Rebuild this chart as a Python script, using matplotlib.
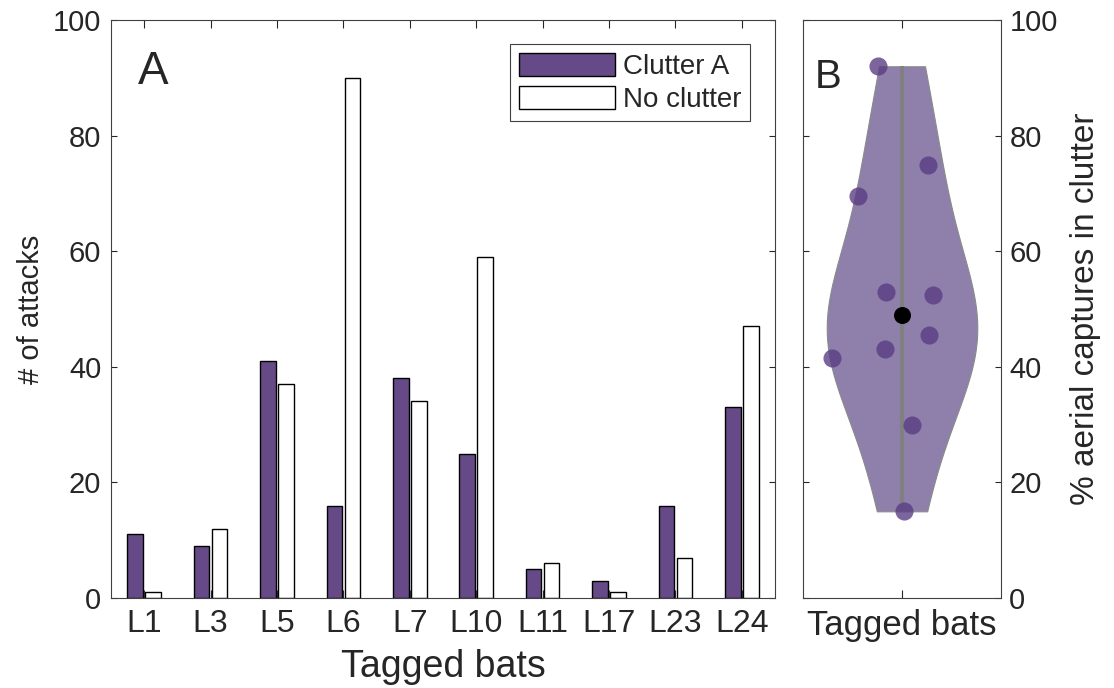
import numpy as np
import matplotlib
matplotlib.use("Agg")
import matplotlib.pyplot as plt

plt.rcParams['font.family'] = ['Liberation Sans', 'DejaVu Sans']
plt.rcParams['text.color'] = '#262626'
plt.rcParams['axes.labelcolor'] = '#262626'
plt.rcParams['xtick.color'] = '#262626'
plt.rcParams['ytick.color'] = '#262626'

# panel A data
bats = ['L1', 'L3', 'L5', 'L6', 'L7', 'L10', 'L11', 'L17', 'L23', 'L24']
clutter_a = [11, 9, 41, 16, 38, 25, 5, 3, 16, 33]
no_clutter = [1, 12, 37, 90, 34, 59, 6, 1, 7, 47]

# panel B data (% aerial captures in clutter) and jitter of each point
pct_clutter = [92, 69.5, 75, 53, 52.5, 43, 45.5, 41.5, 30, 15]
jitter = [-0.121, -0.222, 0.131, -0.081, 0.157, -0.086, 0.136, -0.354, 0.05, 0.01]

purple = '#654a87'
violet = '#8f80ab'
spine_col = '#404040'

fig = plt.figure(figsize=(11.14, 6.88), dpi=100)
ax1 = fig.add_axes([0.0996, 0.1308, 0.5961, 0.8401])
ax2 = fig.add_axes([0.7208, 0.1308, 0.1778, 0.8401])

# --- A: grouped bars
x = np.arange(1, len(bats) + 1)
w = 0.235
ax1.bar(x - 0.135, clutter_a, w, color=purple, edgecolor='black', linewidth=1.0,
        label='Clutter A')
ax1.bar(x + 0.135, no_clutter, w, color='white', edgecolor='black', linewidth=1.0,
        label='No clutter')
ax1.set_xlim(0.5, 10.5)
ax1.set_ylim(0, 100)
ax1.set_xticks(x)
ax1.set_xticklabels(bats)
ax1.set_yticks(np.arange(0, 101, 20))
ax1.set_xlabel('Tagged bats', fontsize=27, labelpad=7)
ax1.set_ylabel('# of attacks', fontsize=21, labelpad=6)
ax1.tick_params(axis='x', direction='in', top=True, length=6, width=0.8,
                labelsize=23, pad=8)
ax1.tick_params(axis='y', direction='in', right=True, length=4.5, width=0.8,
                labelsize=21, pad=7)
ax1.text(0.04, 0.948, 'A', transform=ax1.transAxes, fontsize=33, va='top', ha='left')
leg = ax1.legend(loc='upper right', bbox_to_anchor=(0.962, 0.958), borderaxespad=0,
                 fontsize=20, handlelength=3.45, handleheight=0.9, labelspacing=0.22,
                 handletextpad=0.3, borderpad=0.3, fancybox=False, framealpha=1)
leg.get_frame().set_edgecolor(spine_col)
leg.get_frame().set_linewidth(0.8)

# --- B: violin
vals = np.array(pct_clutter)
bw = 13.0
yy = np.linspace(vals.min(), vals.max(), 200)
dens = np.exp(-0.5 * ((yy[:, None] - vals[None, :]) / bw) ** 2).sum(axis=1)
half = dens / dens.max() * 0.38
ax2.fill_betweenx(yy, 1 - half, 1 + half, facecolor=violet, edgecolor='#8a8a8a',
                  linewidth=0.8, zorder=1)
ax2.plot([1, 1], [vals.min(), vals.max()], color='#808080', linewidth=3, zorder=2,
         solid_capstyle='butt')
ax2.scatter(1 + np.array(jitter), vals, s=170, color='#5b3d84', alpha=0.8,
            linewidths=0, zorder=3)
ax2.scatter([1], [np.median(vals)], s=150, color='black', zorder=4, linewidths=0)
ax2.set_xlim(0.5, 1.5)
ax2.set_ylim(0, 100)
ax2.set_xticks([1])
ax2.set_xticklabels(['Tagged bats'])
ax2.set_yticks(np.arange(0, 101, 20))
ax2.yaxis.set_label_position('right')
ax2.yaxis.tick_right()
ax2.set_ylabel('% aerial captures in clutter', fontsize=24, labelpad=9)
ax2.tick_params(axis='x', direction='in', top=True, length=6, width=0.8,
                labelsize=25, pad=8)
ax2.tick_params(axis='y', direction='in', left=True, right=True, length=4.5,
                width=0.8, labelsize=21, pad=6)
ax2.text(0.06, 0.935, 'B', transform=ax2.transAxes, fontsize=29, va='top', ha='left')

for ax in (ax1, ax2):
    for s in ax.spines.values():
        s.set_color(spine_col)
        s.set_linewidth(0.8)

fig.savefig('out.png', dpi=100)
